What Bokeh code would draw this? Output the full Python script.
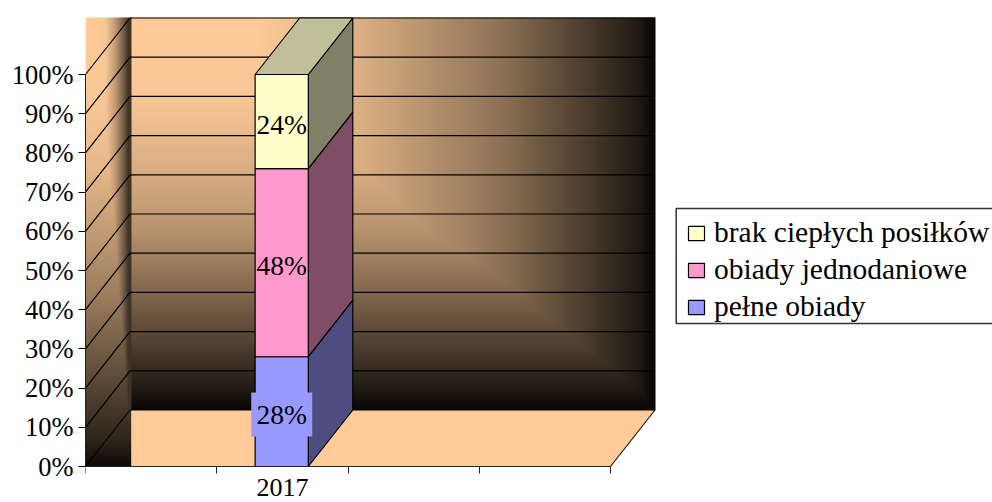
import numpy as np
from bokeh.core.properties import value
from bokeh.embed import file_html
from bokeh.models import FixedTicker, Legend, LegendItem
from bokeh.plotting import figure
from bokeh.resources import INLINE

categories = ["2017"]
series = ["pełne obiady", "obiady jednodaniowe", "brak ciepłych posiłków"]
shares = [28, 48, 24]
front_colors = ["#9999FF", "#FF99CC", "#FFFFCC"]
side_colors = ["#4D4D80", "#804D66", "#808066"]
top_color = "#BFBF99"
y_ticks = list(range(0, 101, 10))
y_labels = [f"{t}%" for t in y_ticks]
x_slots = [0, 1, 2, 3, 4]
FONT = "Liberation Serif"

# pixel scales of the reference
PX_X = 131.25
PX_Y = 3.92
DX = 44.5 / PX_X    # depth of the 3D box, in x units
DY = 56.5 / PX_Y    # depth of the 3D box, in value units
BAR_C = 1.495
BAR_W = 0.405

p = figure(width=992, height=502, output_backend="svg", toolbar_location=None,
           x_range=(0, (992 - 85) / PX_X), y_range=((466 - 502) / PX_Y, (466 - 12) / PX_Y),
           min_border_left=85, min_border_right=0, min_border_top=12, min_border_bottom=0,
           outline_line_color=None, background_fill_color=None, border_fill_color="white")
p.grid.visible = False

# ---- gradient walls ----
W, H = 570, 449
xs = np.arange(W) + 85.5
ys = np.arange(H) + 17.5
wall_x = np.interp(xs, [131, 250, 350, 500, 600, 640, 655], [1, 1, .88, .56, .25, .12, .02])
wall_y = np.interp(ys, [17, 100, 170, 230, 300, 350, 390, 410], [1, .97, .85, .72, .48, .29, .12, .03])
side_x = np.interp(xs, [85, 105, 115, 122, 128, 131], [1, .98, .75, .5, .25, .25])
side_y = np.interp(ys, [17, 100, 170, 250, 300, 350, 400, 440, 466], [1, .98, .9, .72, .6, .45, .3, .18, .05])
level = np.minimum.outer(wall_y, wall_x)
side_mask = xs < 131
level[:, side_mask] = np.minimum.outer(side_y, side_x[side_mask])
rgba = np.zeros((H, W, 4), dtype=np.uint8)
for i, c in enumerate((255, 204, 153)):
    rgba[:, :, i] = np.clip(level * c, 0, 255).astype(np.uint8)
rgba[:, :, 3] = 255
rgba[np.ix_(ys > 410, ~side_mask)] = 0
img = rgba[::-1].copy().view(dtype=np.uint32).reshape((H, W))
p.image_rgba(image=[img], x=0, y=0, dw=W / PX_X, dh=H / PX_Y)

# ---- floor ----
x_end = x_slots[-1]
floor_left = 46 / PX_X
p.patch([floor_left, x_end, x_end + DX, floor_left], [0, 0, DY, DY],
        fill_color="#FFCC99", line_color=None)
p.line([x_end, x_end + DX], [0, DY], line_color="#1a1a1a", line_width=1.2)

# ---- grid on walls ----
for t in y_ticks:
    p.line([0, DX, x_end + DX], [t, t + DY, t + DY], line_color="black", line_width=1.2)

# ---- stacked 3D bar ----
left, right = BAR_C - BAR_W / 2, BAR_C + BAR_W / 2
bottom = 0
fronts = []
for v, fc, sc in zip(shares, front_colors, side_colors):
    top = bottom + v
    p.patch([right, right + DX, right + DX, right], [bottom, bottom + DY, top + DY, top],
            fill_color=sc, line_color="black", line_width=1.2)
    fronts.append(p.quad(left=[left], right=[right], bottom=[bottom], top=[top],
                         fill_color=fc, line_color="black", line_width=1.2))
    bottom = top
p.patch([left, right, right + DX, left + DX], [bottom, bottom, bottom + DY, bottom + DY],
        fill_color=top_color, line_color="black", line_width=1.2)

# ---- data labels ----
stack_mid = np.cumsum(shares) - np.array(shares) / 2
p.rect(x=[BAR_C], y=[stack_mid[0] - 3 / PX_Y], width=61, height=44,
       width_units="screen", height_units="screen", fill_color=front_colors[0], line_color=None)
p.text(x=[BAR_C] * 3, y=list(stack_mid), text=[f"{v}%" for v in shares], text_align="center",
       text_baseline="middle", y_offset=3, text_font=value(FONT), text_font_size="27.5px",
       text_color="black")

# ---- axes ----
ya = p.yaxis[0]
ya.ticker = FixedTicker(ticks=y_ticks)
ya.major_label_overrides = dict(zip(y_ticks, y_labels))
ya.bounds = (0, 100)
ya.major_tick_out = 7
ya.major_tick_in = 0
ya.minor_tick_line_color = None
ya.major_label_standoff = 5
ya.major_label_text_font = FONT
ya.major_label_text_font_size = "26.5px"
ya.major_label_text_color = "black"
ya.axis_line_color = "#222222"

xa = p.xaxis[0]
xa.fixed_location = 0
xa.ticker = FixedTicker(ticks=[1.5], minor_ticks=x_slots)
xa.major_label_overrides = {1.5: categories[0]}
xa.bounds = (0, x_end)
xa.major_tick_line_color = None
xa.major_tick_out = 0
xa.major_tick_in = 0
xa.minor_tick_out = 7
xa.minor_tick_in = 0
xa.minor_tick_line_color = "#222222"
xa.major_label_standoff = 5
xa.major_label_text_font = FONT
xa.major_label_text_font_size = "26px"
xa.major_label_text_color = "black"
xa.axis_line_color = "#222222"

# ---- legend ----
p.quad(left=[(675.7 - 85) / PX_X], right=[(1000 - 85) / PX_X],
       bottom=[(466 - 323) / PX_Y], top=[(466 - 208) / PX_Y],
       fill_color="white", line_color="#333333", line_width=1.5)
legend = Legend(
    items=[LegendItem(label=value(s), renderers=[r]) for s, r in zip(series[::-1], fronts[::-1])],
    location=(601, 179), orientation="vertical",
    label_text_font=FONT, label_text_font_size="29.5px", label_text_color="black",
    glyph_width=20, glyph_height=18, label_standoff=8, spacing=4, padding=0, margin=0,
    border_line_color=None, background_fill_alpha=0)
p.add_layout(legend)

open("out.html", "w").write(file_html(p, INLINE))
